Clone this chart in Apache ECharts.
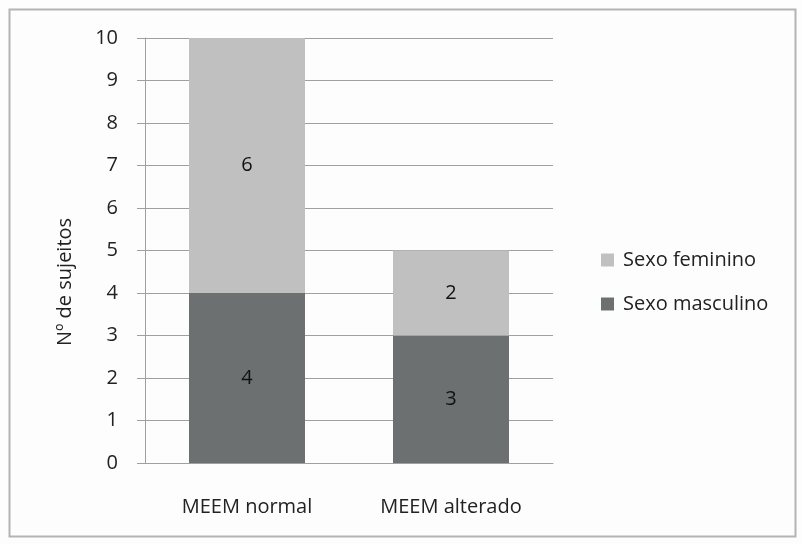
<!DOCTYPE html>
<html>
<head>
<meta charset="utf-8">
<script src="https://cdn.jsdelivr.net/npm/echarts@6/dist/echarts.min.js"></script>
<style>
  html, body { margin: 0; padding: 0; background: #fff; }
  #chart { width: 802px; height: 544px; }
</style>
</head>
<body>
<div id="chart"></div>
<script>
// dados
const categories = ['MEEM normal', 'MEEM alterado']
const masculino = [4, 3]
const feminino = [6, 2]
const yTicks = [0, 10, 1] // min, max, interval

const FONT = 'Open Sans, Liberation Sans, sans-serif'
const FS = 20

const chart = echarts.init(document.getElementById('chart'))
chart.setOption({
  backgroundColor: '#fdfdfd',
  textStyle: { fontFamily: FONT },
  graphic: [
    {
      type: 'rect',
      shape: { x: 9.5, y: 9.5, width: 786, height: 527 },
      style: { fill: 'none', stroke: '#b4b4b4', lineWidth: 2 },
      silent: true,
    },
    {
      // título do eixo y (deslocado para baixo como no original)
      type: 'text',
      x: 65,
      y: 282,
      rotation: Math.PI / 2,
      style: {
        text: 'Nº de sujeitos',
        fontSize: FS,
        fontFamily: FONT,
        fill: '#222',
        align: 'center',
        verticalAlign: 'middle',
      },
      silent: true,
    },
  ],
  grid: { left: 145, right: 249, top: 38, bottom: 81 },
  legend: {
    orient: 'vertical',
    left: 596,
    top: 245,
    itemWidth: 13,
    itemHeight: 13,
    itemGap: 24,
    icon: 'rect',
    data: ['Sexo feminino', 'Sexo masculino'],
    textStyle: { fontSize: FS, color: '#222', fontFamily: FONT, padding: [0, 0, 0, 4] },
  },
  xAxis: {
    type: 'category',
    data: categories,
    axisLine: { lineStyle: { color: '#a0a0a0', width: 1 } },
    axisTick: { show: false },
    axisLabel: { fontSize: FS, color: '#222', margin: 34 },
  },
  yAxis: {
    type: 'value',
    min: yTicks[0],
    max: yTicks[1],
    interval: yTicks[2],
    axisLine: { show: true, lineStyle: { color: '#a0a0a0' } },
    axisTick: { show: true, length: 8, lineStyle: { color: '#a0a0a0' } },
    axisLabel: { fontSize: FS, color: '#222', margin: 27 },
    splitLine: { lineStyle: { color: '#a0a0a0', width: 1 } },
  },
  series: [
    {
      name: 'Sexo masculino',
      type: 'bar',
      stack: 'total',
      data: masculino,
      barWidth: 116,
      itemStyle: { color: '#6d7070' },
      label: { show: true, position: 'inside', fontSize: FS, color: '#111' },
    },
    {
      name: 'Sexo feminino',
      type: 'bar',
      stack: 'total',
      data: feminino,
      barWidth: 116,
      itemStyle: { color: '#c0c0c0' },
      label: { show: true, position: 'inside', fontSize: FS, color: '#111' },
    },
  ],
})
</script>
</body>
</html>
